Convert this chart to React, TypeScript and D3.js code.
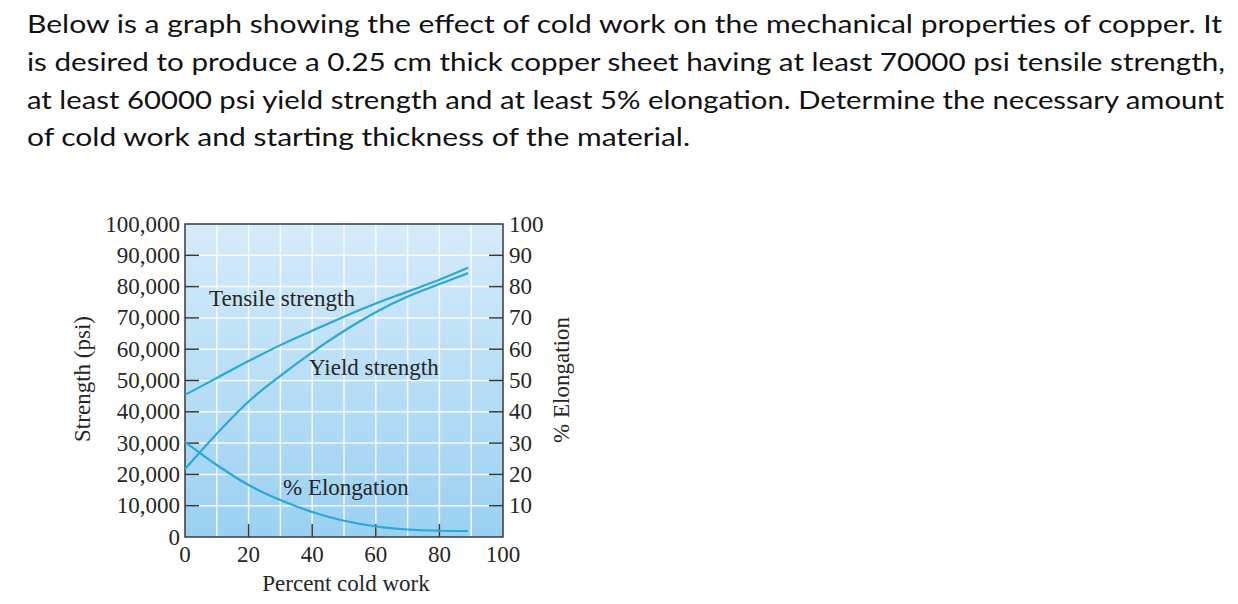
import React from "react";
import * as d3 from "d3";

const questionLines = [
  "Below is a graph showing the effect of cold work on the mechanical properties of copper. It",
  "is desired to produce a 0.25 cm thick copper sheet having at least 70000 psi tensile strength,",
  "at least 60000 psi yield strength and at least 5% elongation. Determine the necessary amount",
  "of cold work and starting thickness of the material.",
];
const questionLineWidths = [1195, 1198, 1197, 663];

const coldWork = [0, 10, 20, 30, 40, 50, 60, 70, 80, 89];
const tensile = [45400, 50800, 56200, 61300, 65900, 70400, 74600, 78400, 82200, 86000];
const yieldStr = [21700, 33000, 43300, 51500, 59000, 65800, 71800, 76800, 80800, 84300];
const elongation = [30.4, 23, 16.6, 11.8, 8, 5.2, 3.4, 2.4, 2, 1.9];

const leftTicks = [0, 10000, 20000, 30000, 40000, 50000, 60000, 70000, 80000, 90000, 100000];
const rightTicks = [10, 20, 30, 40, 50, 60, 70, 80, 90, 100];
const xTicks = [0, 20, 40, 60, 80, 100];

export default function App() {
  const L = 185, R = 503, T = 224, B = 537;
  const x = d3.scaleLinear().domain([0, 100]).range([L, R]);
  const yS = d3.scaleLinear().domain([0, 100000]).range([B, T]);
  const yE = d3.scaleLinear().domain([0, 100]).range([B, T]);
  const serif = "'Liberation Serif', 'Times New Roman', serif";
  const fs = 23;
  const textCol = "#262626";
  const lineCol = "#2aa7dd";

  const lineS = d3.line<number>().x((_, i) => x(coldWork[i])).y((v) => yS(v)).curve(d3.curveCatmullRom.alpha(0.5));
  const lineE = d3.line<number>().x((_, i) => x(coldWork[i])).y((v) => yE(v)).curve(d3.curveCatmullRom.alpha(0.5));

  const grid10 = d3.range(10, 100, 10);

  return (
    <svg width={1238} height={604} style={{ position: "absolute", left: 0, top: 0, background: "#fff" }}>
      <defs>
        <linearGradient id="bg" x1="0" y1="0" x2="0" y2="1">
          <stop offset="0" stopColor="#d6ebfa" />
          <stop offset="1" stopColor="#9ad1f1" />
        </linearGradient>
      </defs>
      {questionLines.map((t, i) => (
        <text key={i} x={27} y={33 + i * 37.8} fontFamily="Lato, 'Open Sans', sans-serif" fontSize={25}
          fill="#111" textLength={questionLineWidths[i]} lengthAdjust="spacingAndGlyphs">{t}</text>
      ))}
      <rect x={L} y={T} width={R - L} height={B - T} fill="url(#bg)" />
      {grid10.map((v) => (
        <line key={"gx" + v} x1={x(v)} x2={x(v)} y1={T} y2={B} stroke="#fff" strokeWidth={1.5} opacity={0.85} />
      ))}
      {grid10.map((v) => (
        <line key={"gy" + v} x1={L} x2={R} y1={yE(v)} y2={yE(v)} stroke="#fff" strokeWidth={1.5} opacity={0.85} />
      ))}
      <rect x={L} y={T} width={R - L} height={B - T} fill="none" stroke="#3a3a3a" strokeWidth={1.5} />
      {leftTicks.filter((v) => v > 0 && v < 100000).map((v) => (
        <line key={"lt" + v} x1={L} x2={L + 14} y1={yS(v)} y2={yS(v)} stroke="#3a3a3a" strokeWidth={1.5} />
      ))}
      {rightTicks.filter((v) => v < 100).map((v) => (
        <line key={"rt" + v} x1={R} x2={R - 14} y1={yE(v)} y2={yE(v)} stroke="#3a3a3a" strokeWidth={1.5} />
      ))}
      {xTicks.filter((v) => v > 0 && v < 100).map((v) => (
        <line key={"bt" + v} x1={x(v)} x2={x(v)} y1={B} y2={B - 13} stroke="#3a3a3a" strokeWidth={1.5} />
      ))}
      {leftTicks.map((v) => (
        <text key={"ll" + v} x={180} y={yS(v)} dominantBaseline="central" textAnchor="end"
          fontFamily={serif} fontSize={fs} fill={textCol}>{d3.format(",")(v)}</text>
      ))}
      {rightTicks.map((v) => (
        <text key={"rl" + v} x={509} y={yE(v)} dominantBaseline="central" textAnchor="start"
          fontFamily={serif} fontSize={fs} fill={textCol}>{v}</text>
      ))}
      {xTicks.map((v) => (
        <text key={"xl" + v} x={x(v)} y={562} textAnchor="middle"
          fontFamily={serif} fontSize={fs} fill={textCol}>{v}</text>
      ))}
      <text x={346} y={591} textAnchor="middle" fontFamily={serif} fontSize={fs} fill={textCol}>Percent cold work</text>
      <text transform={`translate(90,379) rotate(-90)`} textAnchor="middle" fontFamily={serif} fontSize={fs} fill={textCol}>Strength (psi)</text>
      <text transform={`translate(569,380) rotate(-90)`} textAnchor="middle" fontFamily={serif} fontSize={fs} fill={textCol}>% Elongation</text>

      <path d={lineS(tensile) || ""} fill="none" stroke={lineCol} strokeWidth={2.2} />
      <path d={lineS(yieldStr) || ""} fill="none" stroke={lineCol} strokeWidth={2.2} />
      <path d={lineE(elongation) || ""} fill="none" stroke={lineCol} strokeWidth={2.2} />

      <text x={209} y={306} fontFamily={serif} fontSize={fs} fill={textCol}>Tensile strength</text>
      <text x={309} y={375} fontFamily={serif} fontSize={fs} fill={textCol}>Yield strength</text>
      <text x={283} y={495} fontFamily={serif} fontSize={fs} fill={textCol}>% Elongation</text>
    </svg>
  );
}
